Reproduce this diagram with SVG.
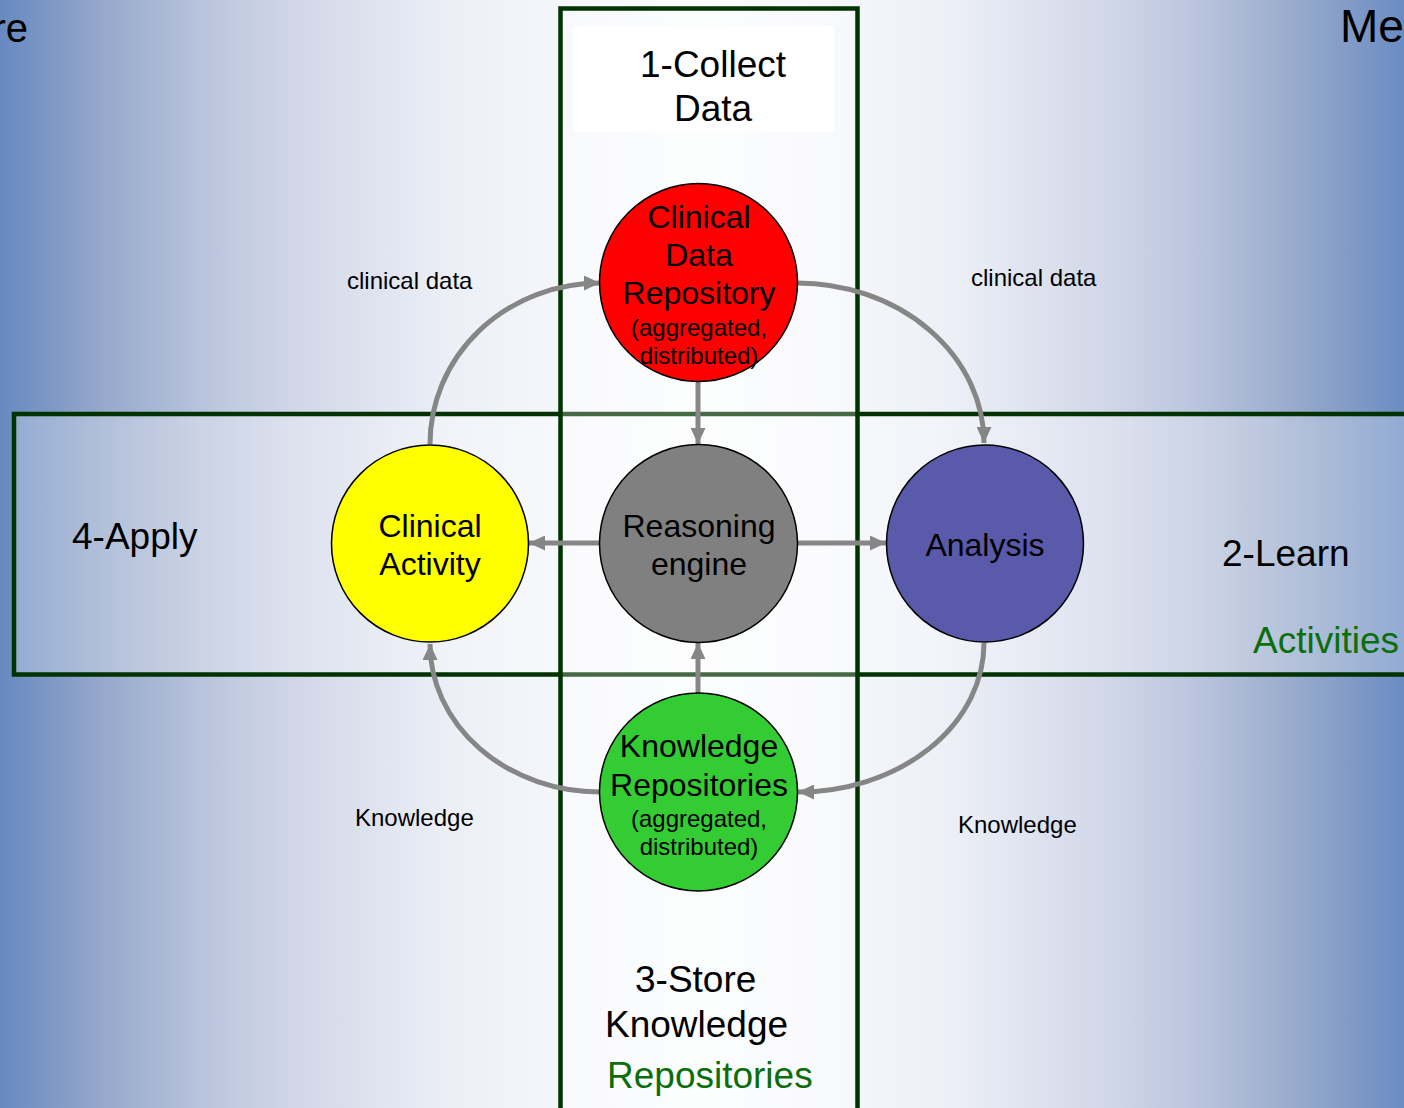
<svg xmlns="http://www.w3.org/2000/svg" width="1404" height="1108" viewBox="0 0 1404 1108">
<defs>
<linearGradient id="bg" x1="0" y1="0" x2="1404" y2="0" gradientUnits="userSpaceOnUse">
<stop offset="0" stop-color="#6689c0"/>
<stop offset="0.0712" stop-color="#95a8cb"/>
<stop offset="0.1425" stop-color="#b8c3dc"/>
<stop offset="0.2066" stop-color="#d0d6e8"/>
<stop offset="0.3205" stop-color="#eceff6"/>
<stop offset="0.4274" stop-color="#f8f9fc"/>
<stop offset="0.4986" stop-color="#fbfcfd"/>
<stop offset="0.5726" stop-color="#f8f9fc"/>
<stop offset="0.6795" stop-color="#eceff6"/>
<stop offset="0.7934" stop-color="#d0d6e8"/>
<stop offset="0.8575" stop-color="#b8c3dc"/>
<stop offset="0.9288" stop-color="#95a8cb"/>
<stop offset="1" stop-color="#6a8cc2"/>
</linearGradient>
<marker id="ah" markerUnits="userSpaceOnUse" markerWidth="16" markerHeight="15" refX="16" refY="7.5" orient="auto" viewBox="0 0 16 15">
<path d="M0,0 L16,7.5 L0,15 Z" fill="#868686"/>
</marker>
<style>
.band{fill:#ffffff;fill-opacity:0.27;stroke:#003300;stroke-width:4.5}
.conn{fill:none;stroke:#868686;stroke-width:5;marker-end:url(#ah)}
.node{stroke:#000000;stroke-width:1.5}
text{font-family:"Liberation Sans",Arial,Helvetica,sans-serif;fill:#000000}
.big{font-size:32px;text-anchor:middle}
.small{font-size:24px;text-anchor:middle}
.lbl{font-size:37px}
.edge{font-size:24px}
.green{fill:#0a6e0a}
</style>
</defs>
<rect x="0" y="0" width="1404" height="1108" fill="url(#bg)"/>
<text x="28" y="42" style="font-size:40px" text-anchor="end">re</text>
<text x="1340" y="42" style="font-size:46px">Me</text>

<g id="band-activities">
<rect class="band" x="14" y="414" width="1420" height="260.5"/>
<text class="lbl" x="72" y="549">4-Apply</text>
<text class="lbl" x="1222" y="566">2-Learn</text>
<text class="lbl green" x="1253" y="653">Activities</text>
</g>
<g id="band-repositories">
<rect class="band" x="560.5" y="8.5" width="297" height="1130"/>
<rect x="573" y="26" width="261" height="106" fill="#ffffff"/>
<text class="lbl" x="713" y="77" text-anchor="middle">1-Collect</text>
<text class="lbl" x="713" y="121" text-anchor="middle">Data</text>
<text class="lbl" x="635" y="992">3-Store</text>
<text class="lbl" x="605" y="1037">Knowledge</text>
<text class="lbl green" x="607" y="1088">Repositories</text>
</g>

<g id="connectors">
<path class="conn" d="M430,444 A170,161 0 0 1 600,283"/>
<path class="conn" d="M797,283 A187,160 0 0 1 984,443"/>
<path class="conn" d="M984,643 A186,149 0 0 1 798,792"/>
<path class="conn" d="M600,792 A170,148 0 0 1 430,644"/>
<path class="conn" d="M698,382 L698,444"/>
<path class="conn" d="M698,693 L698,643"/>
<path class="conn" d="M600,543 L529,543"/>
<path class="conn" d="M797,543 L886,543"/>
<text class="edge" x="347" y="289">clinical data</text>
<text class="edge" x="971" y="286">clinical data</text>
<text class="edge" x="355" y="826">Knowledge</text>
<text class="edge" x="958" y="833">Knowledge</text>
</g>

<g id="node-cdr">
<circle class="node" cx="698.5" cy="282.5" r="99" fill="#ff0000"/>
<text class="big" x="699" y="228">Clinical</text>
<text class="big" x="699" y="266">Data</text>
<text class="big" x="699" y="304">Repository</text>
<text class="small" x="699" y="336">(aggregated,</text>
<text class="small" x="699" y="364">distributed)</text>
</g>
<g id="node-reasoning">
<circle class="node" cx="698.5" cy="543.5" r="99" fill="#808080"/>
<text class="big" x="699" y="537">Reasoning</text>
<text class="big" x="699" y="575">engine</text>
</g>
<g id="node-clinical-activity">
<circle class="node" cx="430" cy="543.5" r="98.5" fill="#ffff00"/>
<text class="big" x="430" y="537">Clinical</text>
<text class="big" x="430" y="575">Activity</text>
</g>
<g id="node-analysis">
<circle class="node" cx="985" cy="543.5" r="98.5" fill="#5a5aaa"/>
<text class="big" x="985" y="556">Analysis</text>
</g>
<g id="node-knowledge">
<circle class="node" cx="698.5" cy="792" r="99" fill="#33cc33"/>
<text class="big" x="699" y="757">Knowledge</text>
<text class="big" x="699" y="796">Repositories</text>
<text class="small" x="699" y="827">(aggregated,</text>
<text class="small" x="699" y="855">distributed)</text>
</g>
</svg>
